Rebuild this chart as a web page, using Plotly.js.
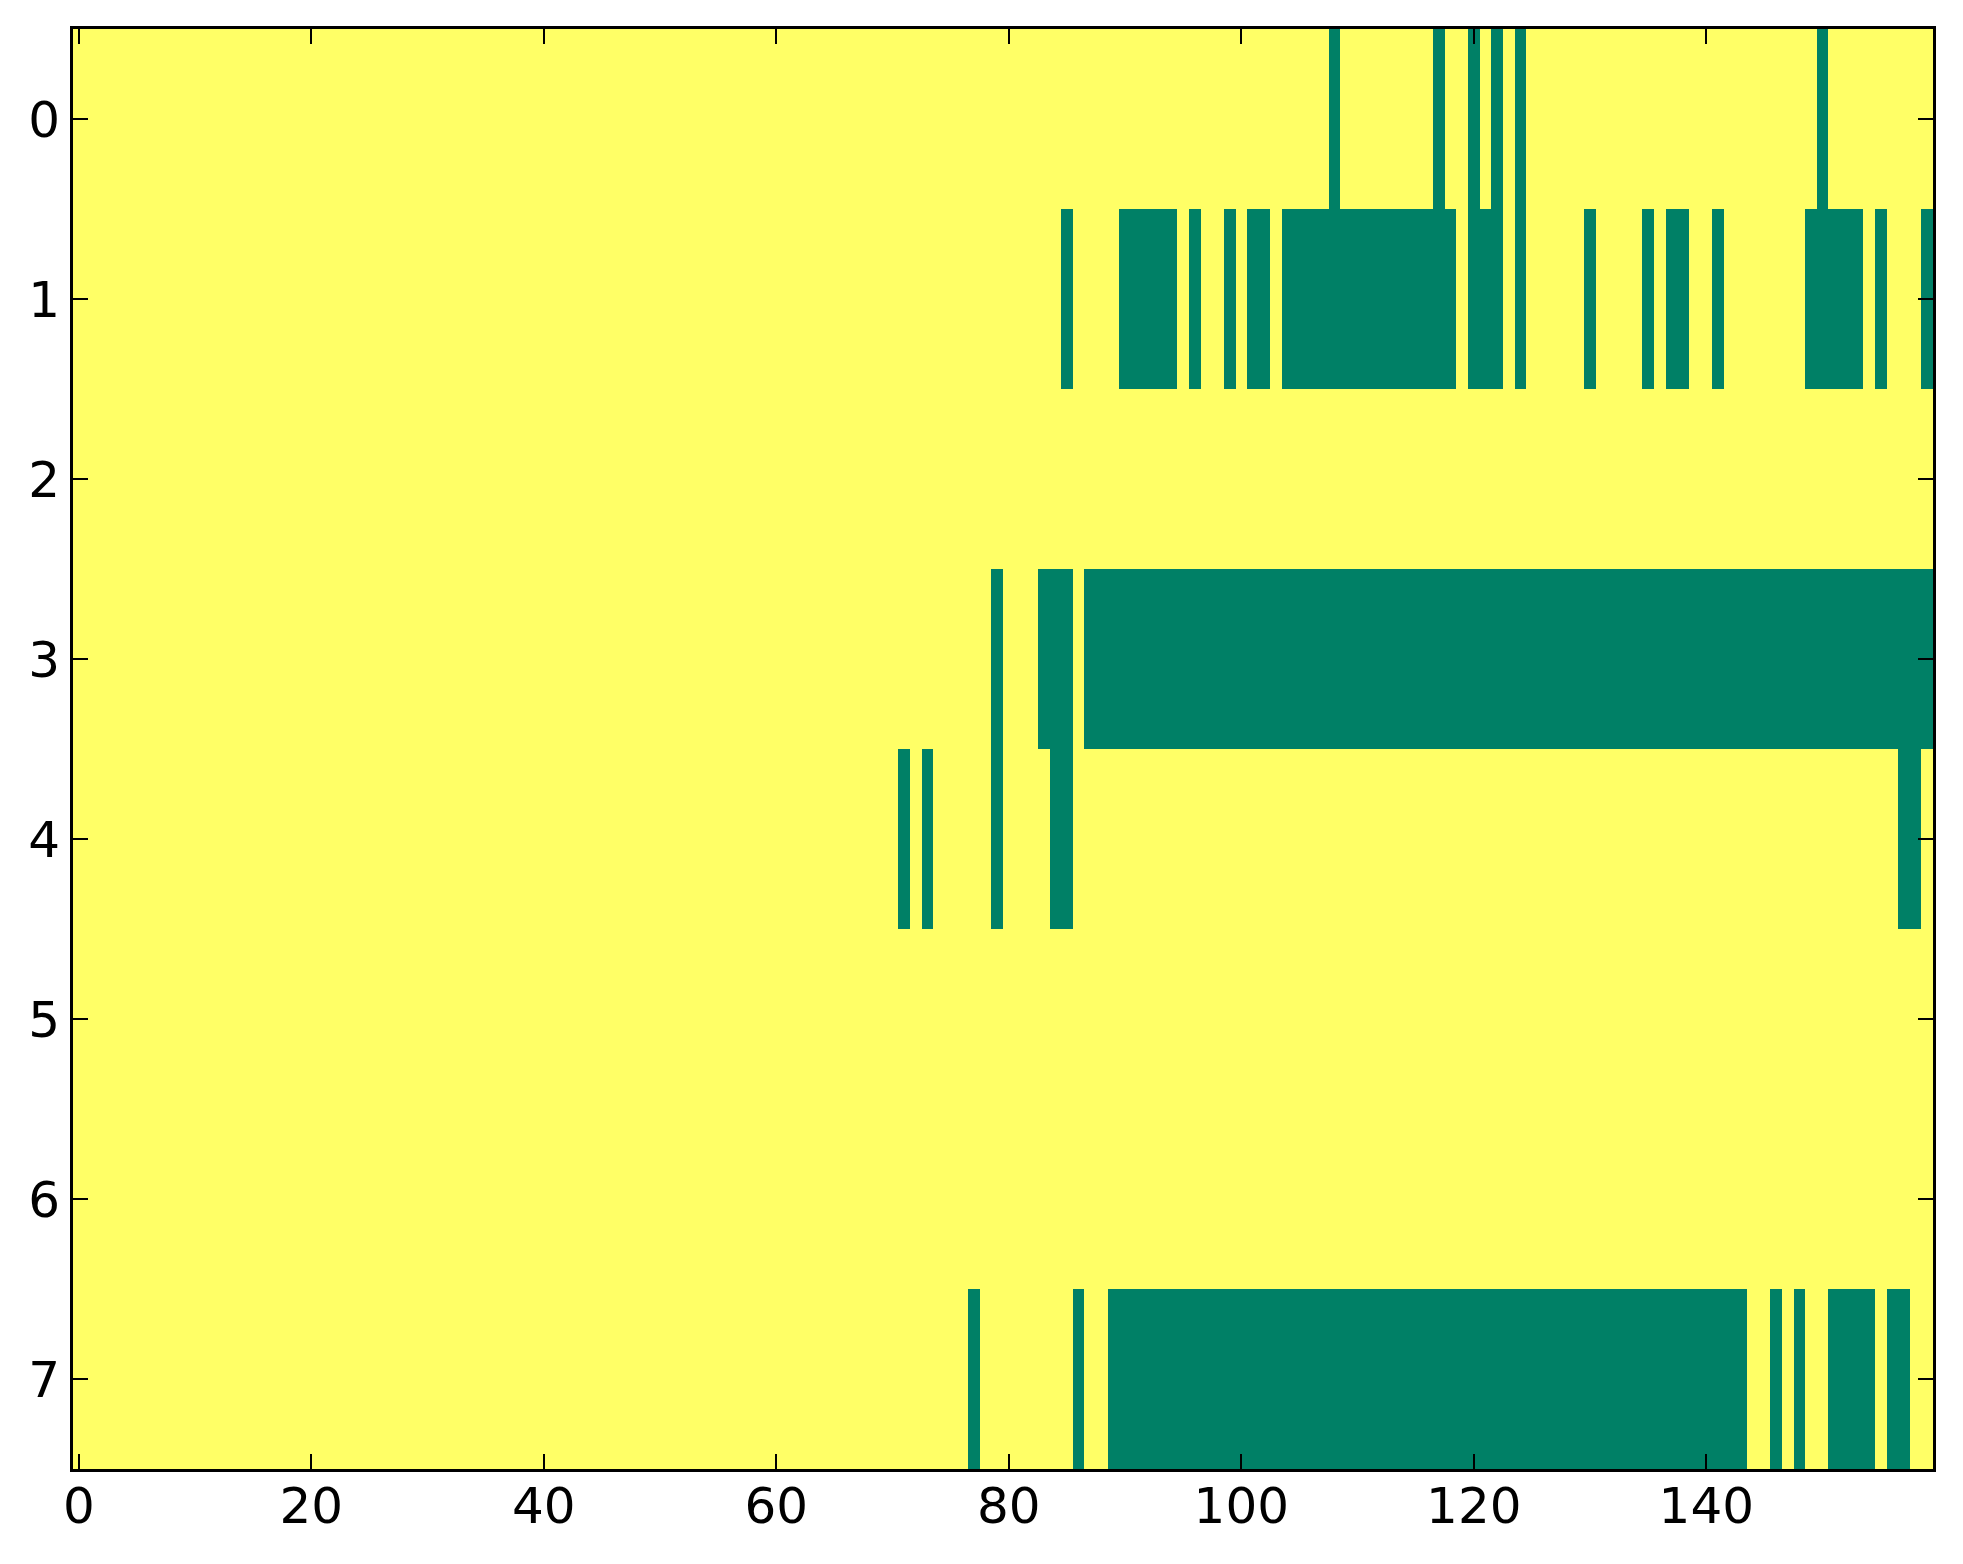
<!DOCTYPE html>
<html>
<head>
<meta charset="utf-8">
<script src="https://cdn.plot.ly/plotly-3.0.1.min.js"></script>
<style>
  html, body { margin: 0; padding: 0; background: #fff; }
  #heat { width: 1963px; height: 1564px; }
</style>
</head>
<body>
<div id="heat"></div>
<script>
/* number of columns in the image */
var nCols = 160;
var rowLabels = [0, 1, 2, 3, 4, 5, 6, 7];

/* green (0) runs per row as [first, last] column, everything else is 1 (yellow) */
var row0 = [[108, 108], [117, 117], [120, 120], [122, 122], [124, 124], [150, 150]];
var row1 = [[85, 85], [90, 94], [96, 96], [99, 99], [101, 102], [104, 118], [120, 122],
            [124, 124], [130, 130], [135, 135], [137, 138], [141, 141], [149, 153],
            [155, 155], [159, 159]];
var row2 = [];
var row3 = [[79, 79], [83, 85], [87, 159]];
var row4 = [[71, 71], [73, 73], [79, 79], [84, 85], [157, 158]];
var row5 = [];
var row6 = [];
var row7 = [[77, 77], [86, 86], [89, 143], [146, 146], [148, 148], [151, 154], [156, 157]];

var rows = [row0, row1, row2, row3, row4, row5, row6, row7];

var cols = [];
for (var c = 0; c < nCols; c++) cols.push(c);

var z = rows.map(function (runs) {
  var line = cols.map(function () { return 1; });
  runs.forEach(function (r) {
    for (var k = r[0]; k <= r[1]; k++) line[k] = 0;
  });
  return line;
});

var data = [{
  type: 'heatmap',
  x: cols,
  y: rowLabels,
  z: z,
  zmin: 0,
  zmax: 1,
  colorscale: [[0, 'rgb(0,128,102)'], [1, 'rgb(255,255,102)']],   // matplotlib "summer"
  showscale: false,
  hoverinfo: 'skip'
}];

var axisFont = {family: 'DejaVu Sans', size: 50, color: '#000'};

var layout = {
  width: 1963,
  height: 1564,
  margin: {l: 73, r: 30, t: 29, b: 95, pad: 0},
  paper_bgcolor: '#fff',
  plot_bgcolor: '#fff',
  showlegend: false,
  xaxis: {
    range: [-0.5, 159.5],
    tick0: 0,
    dtick: 20,
    ticks: 'inside',
    ticklen: 15,
    tickwidth: 2,
    tickcolor: '#000',
    showline: true,
    linewidth: 3,
    linecolor: '#000',
    mirror: 'ticks',
    showgrid: false,
    zeroline: false,
    tickfont: axisFont,
    ticklabelstandoff: -9
  },
  yaxis: {
    range: [7.5, -0.5],
    tick0: 0,
    dtick: 1,
    ticks: 'inside',
    ticklen: 15,
    tickwidth: 2,
    tickcolor: '#000',
    showline: true,
    linewidth: 3,
    linecolor: '#000',
    mirror: 'ticks',
    showgrid: false,
    zeroline: false,
    tickfont: axisFont,
    ticklabelstandoff: 0
  }
};

Plotly.newPlot('heat', data, layout, {staticPlot: true});
</script>
</body>
</html>
